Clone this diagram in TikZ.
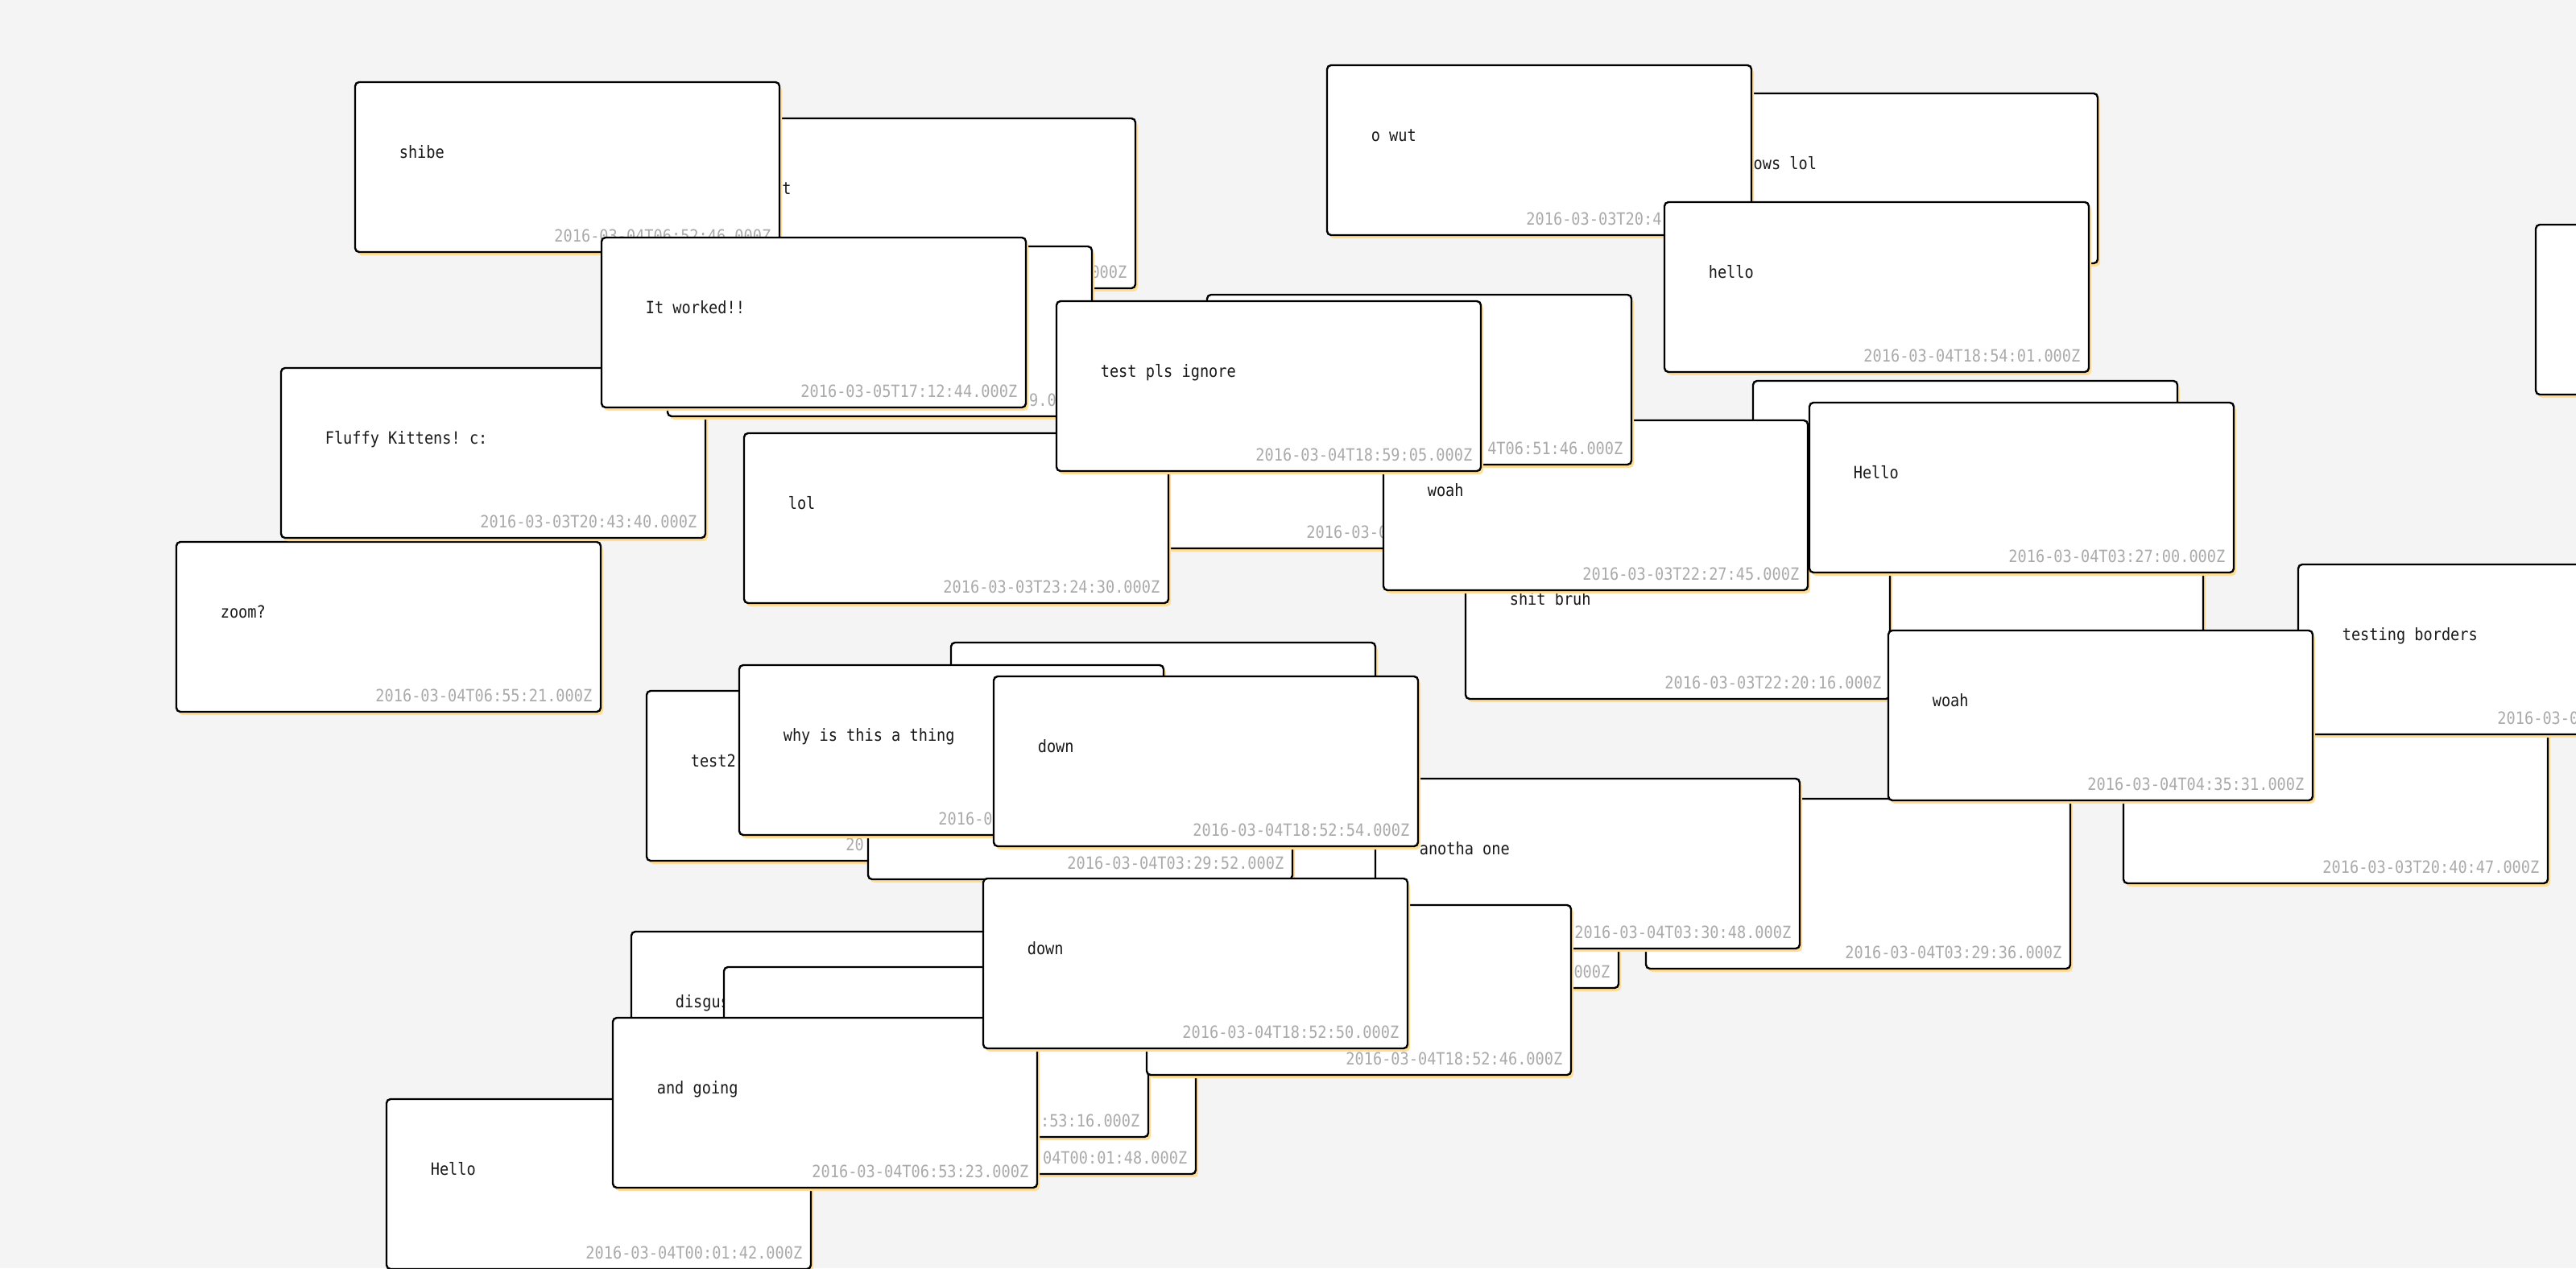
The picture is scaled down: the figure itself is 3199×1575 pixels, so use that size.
\documentclass[tikz,border=0pt]{standalone}
\usepackage{fontspec}
\setmonofont[FakeStretch=0.886]{DejaVu Sans Mono}
\usepackage{tikz}
\usetikzlibrary{shadows}

\definecolor{board}{RGB}{244,244,244}
\definecolor{glow}{RGB}{255,221,150}
\definecolor{stampgray}{RGB}{170,170,170}

% one card: name, top left corner, message, time stamp
\newcommand{\postcard}[5]{%
  \node[card] (#1) at (#2,#3) {};
  \node[msg] (#1_msg) at ([shift={(54.6,94)}]#1.north west) {#4};
  \node[stamp] (#1_ts) at ([shift={(-10.5,-13)}]#1.south east) {#5};
}

\begin{document}
\begin{tikzpicture}[x=1pt,y=-1pt,
    card/.style={draw=black,line width=2.4pt,rounded corners=5pt,fill=white,
      anchor=north west,minimum width=527pt,minimum height=211pt,inner sep=0pt,outer sep=0pt,
      general shadow={fill=glow,shadow xshift=3pt,shadow yshift=-4pt}},
    msg/.style={anchor=base west,inner sep=0pt,font=\ttfamily\fontsize{21}{24}\selectfont,text=black!90},
    stamp/.style={msg,anchor=base east,text=stampgray}]
  \fill[board] (0,0) rectangle (3199,1575);
  \useasboundingbox (0,0) rectangle (3199,1575);

  \postcard{zoom}{219}{673}{zoom?}{2016-03-04T06:55:21.000Z}
  \postcard{test}{883}{147}{\phantom{tes}t}{\phantom{2016-03-04T06:52:4.}000Z}
  \postcard{shibe}{441}{102}{shibe}{2016-03-04T06:52:46.000Z}
  \postcard{kittens}{349}{457}{Fluffy Kittens! c:}{2016-03-03T20:43:40.000Z}
  \postcard{hid_a}{829}{306}{}{\phantom{2016-03-04T06:52:4}9.0\phantom{00Z}}
  \postcard{worked}{747}{295}{It worked!!}{2016-03-05T17:12:44.000Z}
  \postcard{hid_b}{2209}{653}{}{}
  \postcard{bruh}{1820}{657}{shit bruh}{2016-03-03T22:20:16.000Z}
  \postcard{hid_c}{2177}{473}{}{}
  \postcard{hid_d}{1375}{470}{}{2016-03-0\phantom{4T06:51:00.000Z}}
  \postcard{woah_a}{1718}{522}{woah}{2016-03-03T22:27:45.000Z}
  \postcard{lol}{924}{538}{lol}{2016-03-03T23:24:30.000Z}
  \postcard{hid_e}{1499}{366}{}{\phantom{2016-03-0}4T06:51:46.000Z}
  \postcard{ignore}{1312}{374}{test pls ignore}{2016-03-04T18:59:05.000Z}
  \postcard{hello_a}{2247}{500}{Hello}{2016-03-04T03:27:00.000Z}
  \postcard{follows}{2078}{116}{\phantom{foll}ows lol}{}
  \postcard{owut}{1648}{81}{o wut}{2016-03-03T20:4\phantom{0:00.000Z}}
  \postcard{hello_b}{2067}{251}{hello}{2016-03-04T18:54:01.000Z}
  \postcard{edge}{3149}{279}{}{}
  \postcard{hid_f}{2637}{886}{}{2016-03-03T20:40:47.000Z}
  \postcard{borders}{2854}{701}{testing borders}{2016-03-0\phantom{4T00:00:00.000Z}}
  \postcard{hid_g}{2044}{992}{}{2016-03-04T03:29:36.000Z}
  \postcard{woah_b}{2345}{783}{woah}{2016-03-04T04:35:31.000Z}
  \postcard{hid_h}{1483}{1016}{}{\phantom{2016-03-04T00:00:00.}000Z}
  \postcard{anotha}{1708}{967}{anotha one}{2016-03-04T03:30:48.000Z}
  \postcard{test2}{803}{858}{test2}{20\phantom{16-03-04T00:00:00.000Z}}
  \postcard{hid_i}{1181}{798}{}{}
  \postcard{hid_j}{1078}{881}{}{2016-03-04T03:29:52.000Z}
  \postcard{why}{918}{826}{why is this a thing}{2016-0\phantom{3-04T00:00:00.000Z}}
  \postcard{down_a}{1234}{840}{down}{2016-03-04T18:52:54.000Z}
  \postcard{disgus}{784}{1157}{disgus}{}
  \postcard{hid_k}{958}{1247}{}{\phantom{2016-03-}04T00:01:48.000Z}
  \postcard{hid_l}{899}{1201}{}{\phantom{2016-03-04T06}:53:16.000Z}
  \postcard{hello_c}{480}{1365}{Hello}{2016-03-04T00:01:42.000Z}
  \postcard{going}{761}{1264}{and going}{2016-03-04T06:53:23.000Z}
  \postcard{hid_m}{1424}{1124}{}{2016-03-04T18:52:46.000Z}
  \postcard{down_b}{1221}{1091}{down}{2016-03-04T18:52:50.000Z}
\end{tikzpicture}
\end{document}
